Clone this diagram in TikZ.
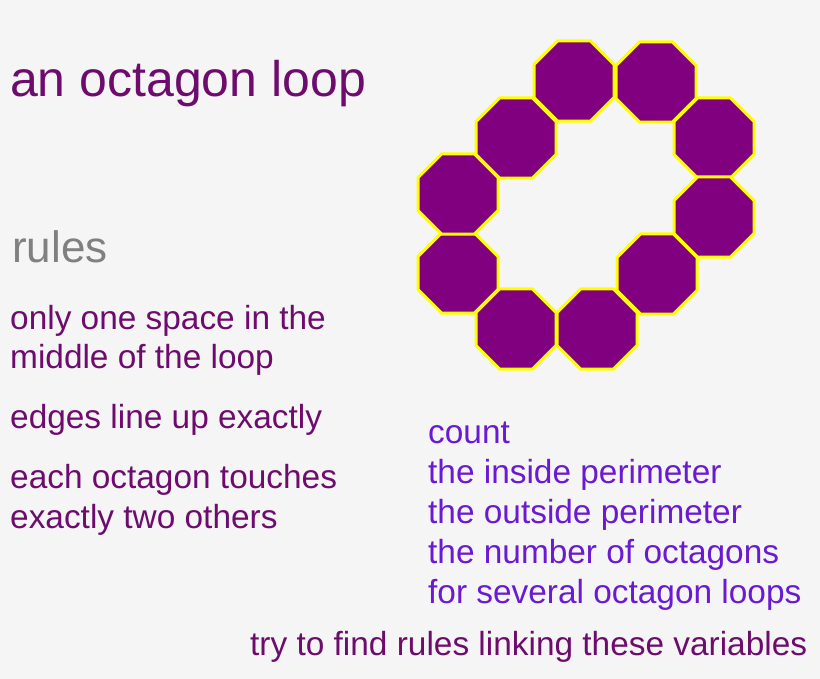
\documentclass[tikz,border=0pt]{standalone}
\usepackage{fontspec}
\setmainfont{Liberation Sans}
\usetikzlibrary{shapes.geometric}
\definecolor{bgcol}{HTML}{F5F5F5}
\definecolor{octfill}{HTML}{800080}
\definecolor{octedge}{HTML}{FFFF00}
\definecolor{leftcol}{HTML}{6E0C6E}
\definecolor{rightcol}{HTML}{6A1AD0}
\tikzset{
  octagon/.style={regular polygon, regular polygon sides=8, minimum size=86.6pt,
    inner sep=0pt, fill=octfill, draw=octedge, line width=3pt},
  ruletext/.style={anchor=base west, inner sep=0pt, text=leftcol, font=\fontsize{33.4}{40}\selectfont},
  counttext/.style={anchor=base west, inner sep=0pt, text=rightcol, font=\fontsize{33.4}{40}\selectfont}
}
\begin{document}
\begin{tikzpicture}[x=1pt,y=-1pt]
    \fill[bgcol] (0,0) rectangle (820,679);
    \useasboundingbox (0,0) rectangle (820,679);
    % octagon loop
    \foreach \cx/\cy [count=\i] in {574/81, 656/82, 714/138, 714/217, 657/274,
                                     597/329, 516/329, 458/273, 458/194, 516/138}
        \node[octagon] (oct\i) at (\cx,\cy) {};
    % title
    \node[anchor=base west, inner sep=0pt, text=leftcol, font=\fontsize{50}{58}\selectfont] (title) at (10,97) {an octagon loop};
    % rules
    \node[anchor=base west, inner sep=0pt, text=gray, font=\fontsize{44}{50}\selectfont] (rules) at (12,263) {rules};
    \node[ruletext] (r1) at (10,330) {only one space in the};
    \node[ruletext] (r2) at (10,368) {middle of the loop};
    \node[ruletext] (r3) at (10,428) {edges line up exactly};
    \node[ruletext] (r4) at (10,488) {each octagon touches};
    \node[ruletext] (r5) at (10,528) {exactly two others};
    % count
    \node[counttext] (c1) at (428,443) {count};
    \node[counttext] (c2) at (428,483) {the inside perimeter};
    \node[counttext] (c3) at (428,523) {the outside perimeter};
    \node[counttext] (c4) at (428,563) {the number of octagons};
    \node[counttext] (c5) at (428,603) {for several octagon loops};
    \node[ruletext] (try) at (250,655) {try to find rules linking these variables};
\end{tikzpicture}
\end{document}
